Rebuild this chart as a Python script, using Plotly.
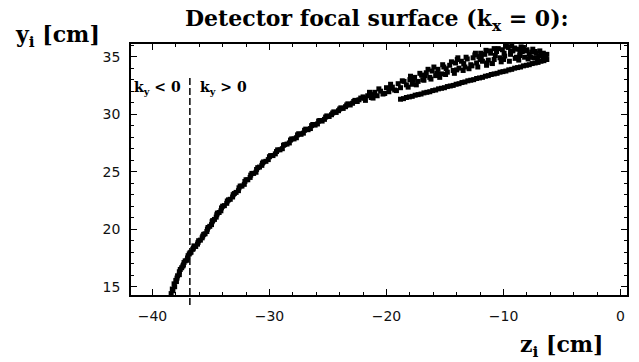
import plotly.graph_objects as go

# ---- data ----
z_band = [-38.4, -38.3, -38.15, -38.0, -37.85, -37.7, -37.5, -37.35, -37.2, -37.0,
          -36.85, -36.7, -36.5, -36.3, -36.1, -35.9, -35.7, -35.5, -35.3, -35.1,
          -34.9, -34.7, -34.5, -34.3, -34.1, -33.85, -33.6, -33.35, -33.1, -32.85,
          -32.6, -32.35, -32.1, -31.85, -31.6, -31.35, -31.1, -30.85, -30.6, -30.3,
          -30.0, -29.7, -29.4, -29.1, -28.8, -28.5, -28.2, -27.9, -27.6, -27.3,
          -27.0, -26.7, -26.4, -26.1, -25.8, -25.5, -25.2, -24.9, -24.6, -24.3,
          -24.0, -23.7, -23.4, -23.1, -22.8, -22.5, -22.2]
y_band = [14.4, 14.8, 15.25, 15.55, 15.95, 16.3, 16.65, 16.9, 17.25, 17.5,
          17.85, 18.0, 18.35, 18.5, 18.85, 19.05, 19.4, 19.6, 20.0, 20.25,
          20.65, 20.85, 21.25, 21.45, 21.85, 22.05, 22.45, 22.6, 23.0, 23.2,
          23.6, 23.75, 24.15, 24.3, 24.7, 24.85, 25.2, 25.4, 25.75, 25.9,
          26.3, 26.4, 26.75, 26.9, 27.3, 27.4, 27.75, 27.85, 28.2, 28.25,
          28.6, 28.65, 29.0, 29.05, 29.4, 29.4, 29.75, 29.8, 30.1, 30.15,
          30.45, 30.5, 30.8, 30.8, 31.1, 31.1, 31.4]

z_band2 = [-38.25, -38.1, -37.95, -37.9, -37.7, -37.62, -37.4, -37.3, -37.05, -36.95,
           -36.78, -36.55, -36.45, -36.15, -36.05, -35.75, -35.62, -35.35, -35.25, -34.95,
           -34.85, -34.55, -34.45, -34.15, -34.0, -33.65, -33.5, -33.15, -33.0, -32.65,
           -32.5, -32.15, -32.0, -31.65, -31.5, -31.15, -31.0, -30.65, -30.5, -30.1,
           -29.9, -29.5, -29.3, -28.9, -28.7, -28.3, -28.1, -27.7, -27.5, -27.1,
           -26.9, -26.5, -26.3, -25.9, -25.7, -25.3, -25.1, -24.7, -24.5, -24.1,
           -23.9, -23.5, -23.3, -22.9, -22.7, -22.35]
y_band2 = [14.65, 15.0, 15.45, 15.75, 16.05, 16.5, 16.8, 17.1, 17.3, 17.7,
           17.95, 18.25, 18.55, 18.7, 19.0, 19.25, 19.55, 19.8, 20.15, 20.4,
           20.75, 21.05, 21.4, 21.6, 22.0, 22.25, 22.55, 22.8, 23.1, 23.35,
           23.75, 23.9, 24.3, 24.5, 24.85, 24.95, 25.35, 25.55, 25.85, 26.05,
           26.4, 26.55, 26.9, 27.0, 27.35, 27.5, 27.85, 27.95, 28.3, 28.35,
           28.7, 28.75, 29.1, 29.15, 29.45, 29.55, 29.85, 29.95, 30.2, 30.3,
           30.55, 30.65, 30.9, 30.95, 31.2, 31.25]

z_cloud = [-22.0, -21.8, -21.6, -21.3, -21.0, -20.8, -20.5, -20.3, -20.0, -19.8,
           -19.5, -19.3, -19.0, -18.8, -18.5, -18.3, -18.0, -17.8, -17.6, -17.3,
           -17.0, -16.8, -16.6, -16.3, -16.1, -15.8, -15.6, -15.3, -15.1, -14.8,
           -14.6, -14.3, -14.1, -13.8, -13.6, -13.3, -13.1, -12.8, -12.6, -12.3,
           -12.1, -11.8, -11.6, -11.3, -11.1, -10.8, -10.6, -10.3, -10.1, -9.9,
           -9.6, -9.4, -9.2, -9.0, -8.8, -8.6, -8.4, -8.2, -8.0, -7.8,
           -7.6, -7.4, -7.2, -7.0, -6.8, -6.6, -6.4, -9.3, -10.8, -12.4,
           -8.5, -11.5, -13.9]
y_cloud = [31.5, 31.2, 31.6, 31.45, 31.9, 31.6, 32.0, 31.75, 32.3, 31.95,
           32.35, 32.1, 32.65, 32.3, 32.85, 32.55, 33.0, 32.6, 33.2, 32.85,
           33.4, 32.95, 33.6, 33.2, 33.75, 33.35, 33.9, 33.5, 34.1, 33.65,
           34.25, 33.8, 34.45, 34.0, 34.6, 34.1, 34.8, 34.3, 34.9, 34.45,
           35.0, 34.6, 35.2, 34.7, 35.3, 34.75, 35.45, 34.9, 35.6, 35.05,
           35.8, 35.2, 35.5, 34.85, 35.65, 35.1, 35.45, 34.95, 35.6, 35.2,
           35.4, 34.9, 35.3, 35.05, 35.25, 34.95, 35.1, 35.95, 35.7, 35.3,
           35.85, 35.55, 34.9]

z_cloud2 = [-21.9, -21.45, -21.15, -20.65, -20.15, -19.65, -19.15, -18.65, -18.15, -17.95,
            -17.45, -17.15, -16.9, -16.45, -16.2, -15.95, -15.45, -15.2, -14.95, -14.45,
            -14.2, -13.95, -13.45, -13.2, -12.95, -12.45, -12.2, -11.95, -11.45, -11.2,
            -10.95, -10.45, -10.2, -9.75, -9.5, -9.05, -8.7, -8.3, -7.9, -7.5,
            -7.1, -6.9, -6.5, -6.3]
y_cloud2 = [31.4, 31.9, 31.4, 32.2, 31.8, 32.6, 32.05, 32.9, 32.35, 33.3,
            32.55, 33.55, 33.0, 33.9, 33.05, 34.1, 33.2, 34.3, 33.45, 34.55,
            33.55, 34.75, 33.8, 34.95, 33.95, 35.15, 34.1, 35.3, 34.25, 35.5,
            34.4, 35.7, 34.55, 35.9, 34.6, 35.75, 34.7, 35.8, 34.8, 35.65,
            34.85, 35.5, 34.9, 35.2]

z_cloud3 = [-15.7, -14.9, -14.0, -13.4, -12.7, -12.0, -11.4, -10.7, -10.0, -9.4,
            -8.9, -8.1, -7.7, -7.3, -6.6, -19.6, -17.7, -16.7, -21.2, -11.9,
            -9.95, -8.6]
y_cloud3 = [33.55, 33.95, 33.85, 34.4, 34.2, 34.75, 34.45, 35.1, 34.75, 35.45,
            34.95, 35.5, 34.95, 35.45, 35.3, 32.25, 32.95, 33.35, 31.7, 34.95,
            35.3, 35.3]

z_lower = [-18.8, -18.55, -18.3, -18.05, -17.8, -17.55, -17.3, -17.05, -16.8, -16.55,
           -16.3, -16.05, -15.8, -15.55, -15.3, -15.05, -14.8, -14.55, -14.3, -14.05,
           -13.8, -13.55, -13.3, -13.05, -12.8, -12.55, -12.3, -12.05, -11.8, -11.55,
           -11.3, -11.05, -10.8, -10.55, -10.3, -10.05, -9.8, -9.55, -9.3, -9.05,
           -8.8, -8.55, -8.3, -8.05, -7.8, -7.55, -7.3, -7.05, -6.8, -6.55, -6.3]
y_lower = [31.3, 31.35, 31.45, 31.5, 31.55, 31.65, 31.7, 31.75, 31.85, 31.9,
           31.95, 32.05, 32.1, 32.2, 32.25, 32.3, 32.4, 32.45, 32.5, 32.6,
           32.65, 32.75, 32.8, 32.9, 32.95, 33.0, 33.1, 33.15, 33.2, 33.3,
           33.35, 33.45, 33.5, 33.55, 33.65, 33.7, 33.75, 33.85, 33.9, 34.0,
           34.05, 34.1, 34.2, 34.25, 34.3, 34.4, 34.45, 34.5, 34.6, 34.65, 34.75]

x_range = [-41.83, 0.55]
y_range = [14.28, 36.1]
x_major_ticks = [-40, -30, -20, -10, 0]
y_major_ticks = [15, 20, 25, 30, 35]

ky_boundary_z = -36.8
ky_line_y = [13.4, 33.4]

title_text = "Detector focal surface (k<sub>x</sub> = 0):"
y_label = "y<sub>i</sub> [cm]"
x_label = "z<sub>i</sub> [cm]"
ky_left = "k<sub>y</sub> &lt; 0"
ky_right = "k<sub>y</sub> &gt; 0"

# ---- figure ----
fig = go.Figure()
marker = dict(symbol="square", size=5, color="black", line=dict(width=0))
for zs, ys in [(z_band, y_band), (z_band2, y_band2), (z_cloud, y_cloud),
               (z_cloud2, y_cloud2), (z_cloud3, y_cloud3), (z_lower, y_lower)]:
    fig.add_trace(go.Scatter(x=zs, y=ys, mode="markers", marker=marker,
                             showlegend=False, hoverinfo="skip"))

def to_paper_y(v):
    return (v - y_range[0]) / (y_range[1] - y_range[0])

fig.add_shape(type="line", xref="x", yref="paper",
              x0=ky_boundary_z, x1=ky_boundary_z,
              y0=to_paper_y(ky_line_y[0]), y1=to_paper_y(ky_line_y[1]),
              line=dict(color="black", width=1.5, dash="7px,3px"))

serif = "DejaVu Serif"
fig.add_annotation(text="<b>" + title_text + "</b>", xref="paper", yref="paper",
                   x=0.496, y=1.095, xanchor="center", yanchor="middle",
                   showarrow=False, font=dict(family=serif, size=22, color="black"))
fig.add_annotation(text="<b>" + y_label + "</b>", xref="paper", yref="paper",
                   x=-0.237, y=1.03, xanchor="left", yanchor="middle",
                   showarrow=False, font=dict(family=serif, size=22, color="black"))
fig.add_annotation(text="<b>" + x_label + "</b>", xref="paper", yref="paper",
                   x=0.958, y=-0.203, xanchor="right", yanchor="middle",
                   showarrow=False, font=dict(family=serif, size=22, color="black"))
fig.add_annotation(text="<b>" + ky_left + "</b>", xref="paper", yref="paper",
                   x=0.002, y=0.825, xanchor="left", yanchor="middle",
                   showarrow=False, font=dict(family=serif, size=14, color="black"))
fig.add_annotation(text="<b>" + ky_right + "</b>", xref="paper", yref="paper",
                   x=0.135, y=0.825, xanchor="left", yanchor="middle",
                   showarrow=False, font=dict(family=serif, size=14, color="black"))

tickfont = dict(family="DejaVu Sans", size=14, color="#111111")
fig.update_xaxes(range=x_range, tickmode="array", tickvals=x_major_ticks,
                 ticks="inside", ticklen=6, tickwidth=1, tickcolor="black",
                 showline=True, linecolor="black", linewidth=1.5, mirror="ticks",
                 showgrid=False, zeroline=False, tickfont=tickfont,
                 ticklabelstandoff=7,
                 minor=dict(dtick=2, tick0=0, ticks="inside", ticklen=3,
                            tickcolor="black", tickwidth=1, showgrid=False))
fig.update_yaxes(range=y_range, tickmode="array", tickvals=y_major_ticks,
                 ticks="inside", ticklen=6, tickwidth=1, tickcolor="black",
                 showline=True, linecolor="black", linewidth=1.5, mirror="ticks",
                 showgrid=False, zeroline=False, tickfont=tickfont,
                 ticklabelstandoff=6,
                 minor=dict(dtick=1, tick0=0, ticks="inside", ticklen=3,
                            tickcolor="black", tickwidth=1, showgrid=False))

fig.update_layout(width=639, height=362, margin=dict(l=131, r=10, t=44, b=67),
                  plot_bgcolor="white", paper_bgcolor="white", showlegend=False)

fig.write_html("out.html")
